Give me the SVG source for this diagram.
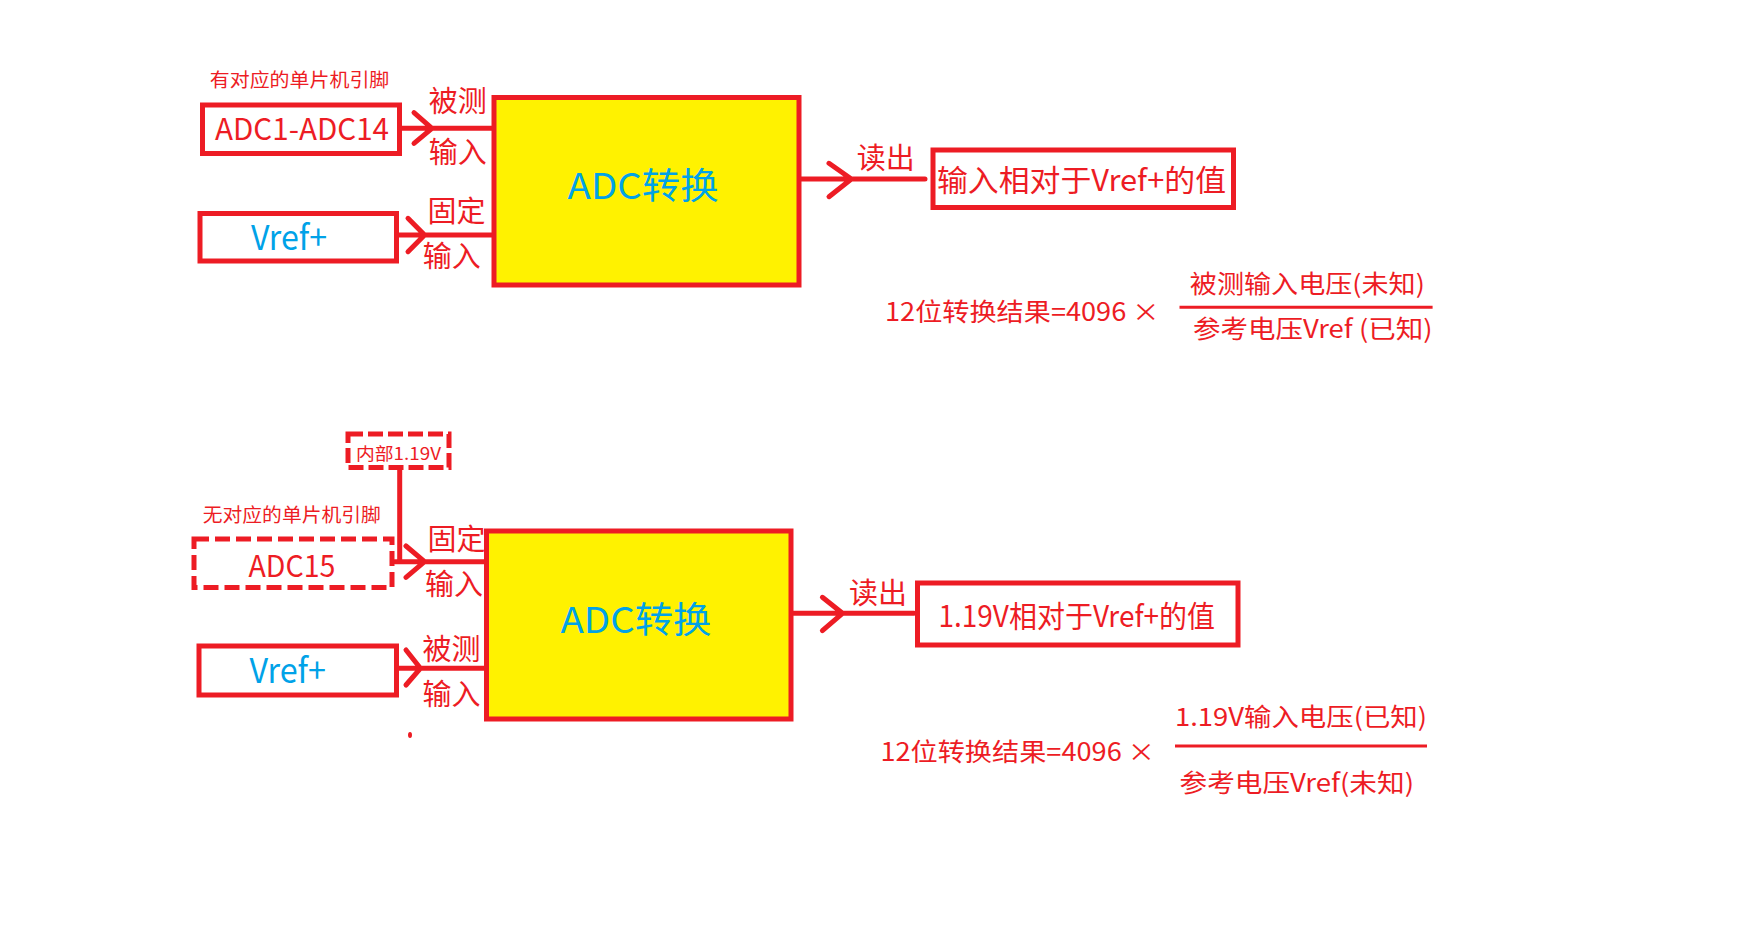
<svg xmlns="http://www.w3.org/2000/svg" width="1758" height="927" viewBox="0 0 1758 927">
<style>
.box{fill:#fff;stroke:#ED1C24;stroke-width:5}
.adc{fill:#FFF200;stroke:#ED1C24;stroke-width:5}
.d1{stroke-dasharray:15 5}
.d2{stroke-dasharray:15 6}
.w{fill:none;stroke:#ED1C24;stroke-width:5;stroke-linecap:round;stroke-linejoin:round}
.fl{fill:none;stroke:#ED1C24;stroke-width:3}
text{font-family:"Noto Sans CJK SC","Noto Sans",sans-serif;fill:#ED1C24}
.b{fill:#00A2E8}
.s{font-size:19px}
.m{font-size:29px}
.l{font-size:30px}
.f{font-size:25px}
.x{font-size:36px}
</style>
<rect width="1758" height="927" fill="#fff"/>
<g id="connectors">
<path class="w" d="M399 128.3H494M414 112.7L432 128.3L414 143.3"/>
<path class="w" d="M396 235H494M408 218.3L424.6 235L408 251.7"/>
<path class="w" d="M800 179H925M829 163.3L851.4 179L829 196.7"/>
<path class="w" d="M399.7 470V561.7M394.7 561.7H486.7M406 546L424.6 561.7L406 577.3"/>
<path class="w" d="M396 668.3H487M406 650L420.4 668.3L406 685"/>
<path class="w" d="M791 613.3H914M822.4 597.3L842.5 613.3L822.4 630.7"/>
</g>
<g id="label-top">
<text class="s" x="209.8" y="87" textLength="179.5" lengthAdjust="spacingAndGlyphs">有对应的单片机引脚</text>
</g>
<g id="adc1">
<rect class="box" x="202.5" y="105" width="197" height="48.5"/>
<text class="l" x="215" y="140" textLength="174" lengthAdjust="spacingAndGlyphs">ADC1-ADC14</text>
</g>
<g id="vref1">
<rect class="box" x="200" y="213.5" width="196.5" height="47.5"/>
<text class="l b" x="251" y="250" style="font-size:34px" textLength="76" lengthAdjust="spacingAndGlyphs">Vref+</text>
</g>
<g id="labels1">
<text class="m" x="428.7" y="111.5">被测</text>
<text class="m" x="428.7" y="163">输入</text>
<text class="m" x="427.5" y="221.5">固定</text>
<text class="m" x="422.8" y="266.5">输入</text>
<text class="m" x="856.8" y="169">读出</text>
</g>
<g id="adcbox1">
<rect class="adc" x="494" y="97.5" width="305" height="187.5"/>
<text class="x b" x="567.6" y="199" textLength="151" lengthAdjust="spacingAndGlyphs">ADC转换</text>
</g>
<g id="result1">
<rect class="box" x="933" y="150" width="300.5" height="57.5"/>
<text class="l" x="937" y="191" textLength="289" lengthAdjust="spacingAndGlyphs">输入相对于Vref+的值</text>
</g>
<g id="formula1">
<text class="f" x="885" y="320.5" textLength="274.5" lengthAdjust="spacingAndGlyphs">12位转换结果=4096 ×</text>
<line class="fl" x1="1179.5" y1="307.3" x2="1432.6" y2="307.3"/>
<text class="f" x="1189.8" y="293" textLength="235" lengthAdjust="spacingAndGlyphs">被测输入电压(未知)</text>
<text class="f" x="1193" y="338" textLength="239.5" lengthAdjust="spacingAndGlyphs">参考电压Vref (已知)</text>
</g>
<g id="internal">
<rect class="box d1" x="348" y="434" width="101" height="33.5"/>
<text x="356" y="460" style="font-size:17px" textLength="85" lengthAdjust="spacingAndGlyphs">内部1.19V</text>
</g>
<g id="label-bottom">
<text class="s" x="202.8" y="522" textLength="178" lengthAdjust="spacingAndGlyphs">无对应的单片机引脚</text>
</g>
<g id="adc15">
<rect class="box d2" x="194" y="539" width="198" height="48.5"/>
<text class="l" x="248.4" y="576.7" textLength="87" lengthAdjust="spacingAndGlyphs">ADC15</text>
</g>
<g id="vref2">
<rect class="box" x="199" y="646" width="197.5" height="49"/>
<text class="l b" x="249.6" y="683.3" style="font-size:34px" textLength="76.4" lengthAdjust="spacingAndGlyphs">Vref+</text>
</g>
<g id="labels2">
<text class="m" x="427.5" y="550">固定</text>
<text class="m" x="425" y="595">输入</text>
<text class="m" x="422.5" y="660">被测</text>
<text class="m" x="422.5" y="705">输入</text>
<text class="m" x="849" y="603.5">读出</text>
</g>
<g id="adcbox2">
<rect class="adc" x="486.5" y="531" width="304.5" height="188"/>
<text class="x b" x="560.5" y="633.3" textLength="151" lengthAdjust="spacingAndGlyphs">ADC转换</text>
</g>
<g id="result2">
<rect class="box" x="917.5" y="583" width="320.5" height="62"/>
<text class="l" x="938.5" y="627" textLength="276.5" lengthAdjust="spacingAndGlyphs">1.19V相对于Vref+的值</text>
</g>
<g id="formula2">
<text class="f" x="880.4" y="761" textLength="274.6" lengthAdjust="spacingAndGlyphs">12位转换结果=4096 ×</text>
<line class="fl" x1="1175" y1="746" x2="1427" y2="746"/>
<text class="f" x="1175" y="726" textLength="252" lengthAdjust="spacingAndGlyphs">1.19V输入电压(已知)</text>
<text class="f" x="1179.5" y="792" textLength="234.5" lengthAdjust="spacingAndGlyphs">参考电压Vref(未知)</text>
</g>
<ellipse cx="410" cy="735" rx="2" ry="3" fill="#ED1C24"/>
</svg>
